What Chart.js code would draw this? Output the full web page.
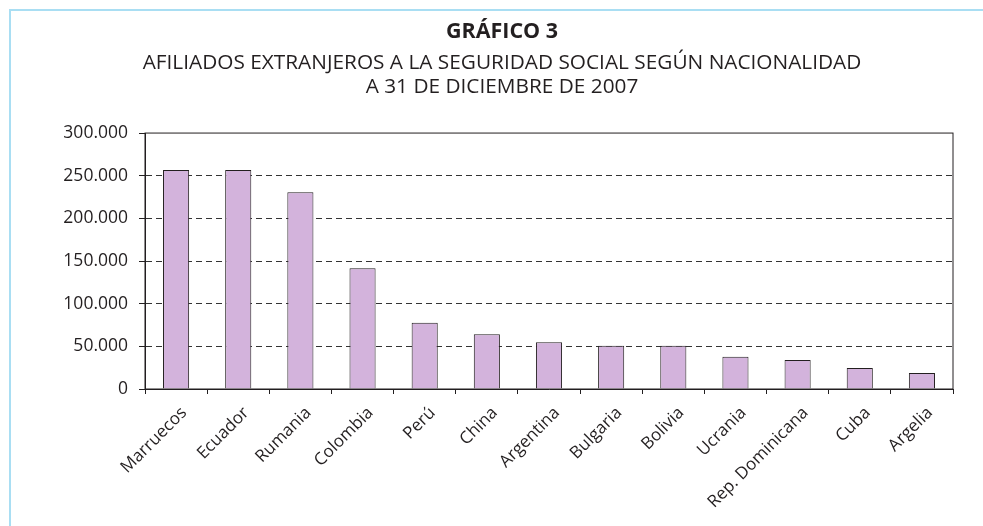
<!DOCTYPE html>
<html>
<head>
<meta charset="utf-8">
<script src="https://cdn.jsdelivr.net/npm/chart.js@4/dist/chart.umd.min.js"></script>
<style>
  html, body { margin: 0; padding: 0; background: #fff; }
  #wrap { position: relative; width: 983px; height: 526px; }
  #frame { position: absolute; left: 9px; top: 9px; right: 0; bottom: 0;
           border-left: 2px solid #a9def3; border-top: 2px solid #a9def3; }
  #chart { position: absolute; left: 0; top: 0; }
</style>
</head>
<body>
<div id="wrap">
  <div id="frame"></div>
  <canvas id="chart" width="983" height="526"></canvas>
</div>
<script>
// --- data ---
const countries = ['Marruecos', 'Ecuador', 'Rumania', 'Colombia', 'Perú', 'China', 'Argentina',
                   'Bulgaria', 'Bolivia', 'Ucrania', 'Rep. Dominicana', 'Cuba', 'Argelia'];
const affiliates = [256800, 256600, 230500, 141400, 77700, 64100, 54700,
                    50800, 50800, 37900, 34000, 24600, 18700];
const yTickLabels = ['0', '50.000', '100.000', '150.000', '200.000', '250.000', '300.000'];

const titleText = 'GRÁFICO 3';
const subtitleLines = ['AFILIADOS EXTRANJEROS A LA SEGURIDAD SOCIAL SEGÚN NACIONALIDAD',
                       'A 31 DE DICIEMBRE DE 2007'];

const ink = '#231f20';
const fontFamily = '"Open Sans", Lato, sans-serif';

// closes the plot box on the top and right side
const plotBox = {
    id: 'plotBox',
    afterDraw(chart) {
        const { ctx, chartArea: a } = chart;
        ctx.save();
        ctx.strokeStyle = ink;
        ctx.lineWidth = 1;
        ctx.strokeRect(a.left, a.top, a.right - a.left, a.bottom - a.top);
        ctx.restore();
    }
};

new Chart(document.getElementById('chart'), {
    type: 'bar',
    data: {
        labels: countries,
        datasets: [{
            data: affiliates,
            backgroundColor: '#d3b3dc',
            borderColor: ink,
            borderWidth: 1,
            barPercentage: 0.42,
            categoryPercentage: 1
        }]
    },
    options: {
        responsive: false,
        animation: false,
        // left padding puts the headings' centre where the reference has it
        layout: { padding: { left: 51, right: 30, top: 0, bottom: 0 } },
        plugins: {
            legend: { display: false },
            tooltip: { enabled: false },
            title: {
                display: true,
                text: titleText,
                color: ink,
                font: { family: fontFamily, size: 21.5, weight: 'bold', lineHeight: 1.2 },
                padding: { top: 19, bottom: 6 }
            },
            subtitle: {
                display: true,
                text: subtitleLines,
                color: ink,
                font: { family: fontFamily, size: 20.8, lineHeight: 1.16 },
                padding: { top: 0, bottom: 34 }
            }
        },
        scales: {
            x: {
                offset: true,
                grid: { offset: true, drawOnChartArea: false, drawTicks: true, tickLength: 5, color: ink },
                border: { color: ink, width: 1 },
                ticks: {
                    color: ink,
                    font: { family: fontFamily, size: 17 },
                    minRotation: 45,
                    maxRotation: 45,
                    padding: 9,
                    labelOffset: 8
                },
                afterFit(scale) { scale.height = 137; }
            },
            y: {
                min: 0,
                max: 300000,
                grid: {
                    color: (c) => (c.tick && (c.tick.value === 0 || c.tick.value === 300000)) ? 'rgba(0,0,0,0)' : '#333333',
                    tickColor: ink,
                    tickLength: 6,
                    lineWidth: 1
                },
                border: { color: ink, width: 1, dash: [6, 4] },
                ticks: {
                    stepSize: 50000,
                    color: ink,
                    padding: 11,
                    font: { family: fontFamily, size: 17.5 },
                    callback: (value, i) => yTickLabels[i]
                },
                afterFit(scale) { scale.width = 94; }
            }
        }
    },
    plugins: [plotBox]
});
</script>
</body>
</html>
